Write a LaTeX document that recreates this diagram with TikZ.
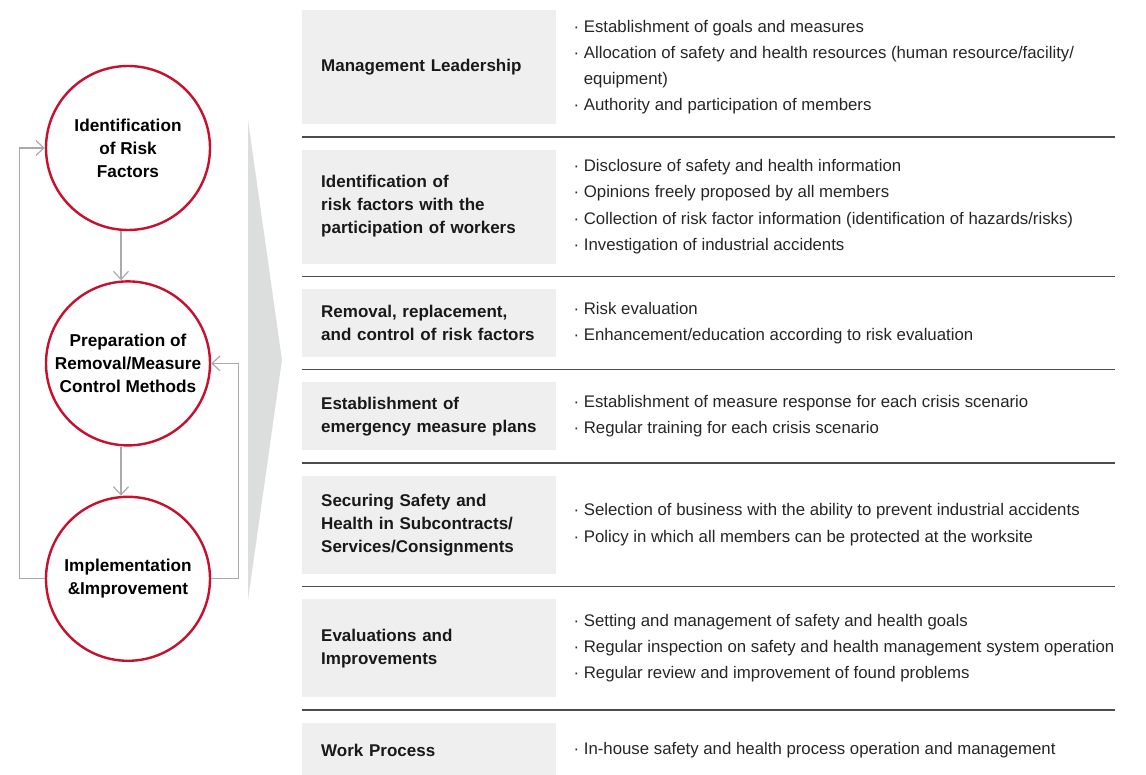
\documentclass[tikz,border=0pt]{standalone}
\usepackage{fontspec}
\setmainfont{Liberation Sans}
\usetikzlibrary{positioning, arrows.meta, calc}
\definecolor{riskred}{RGB}{200,16,46}
\definecolor{headgray}{RGB}{239,239,239}
\definecolor{wedgegray}{RGB}{220,221,221}
\definecolor{loopgray}{RGB}{170,170,170}
\begin{document}
\begin{tikzpicture}[
    x=1pt, y=-1pt, node distance=25pt and 17pt,
    font=\fontsize{16.8}{26.3}\selectfont,
    stage/.style={circle, draw=riskred, fill=white, line width=2.4pt, minimum size=164pt,
                  inner sep=0pt, align=center, font=\bfseries\fontsize{17.2}{23}\selectfont},
    head/.style={fill=headgray, text width=216pt, inner xsep=19pt, inner ysep=0pt,
                 align=left, text=black!90, font=\bfseries\fontsize{17}{23}\selectfont},
    item/.style={inner sep=0pt, align=left, text=black!85},
    flow/.style={-{Straight Barb[length=8pt, width=15pt]}, line width=1.2pt, draw=loopgray},
    sep/.style={line width=1.3pt, draw=black!70}
]
\useasboundingbox (0,0) rectangle (1146,775);
% cycle
\node[stage] (s1) at (128,148) {Identification\\of Risk\\Factors};
\node[stage, below=49pt of s1] (s2) {Preparation of\\Removal/Measure\\Control Methods};
\node[stage, below=49pt of s2] (s3) {Implementation\\\&Improvement};
\draw[flow] ([xshift=-7pt]s1.south) -- ([xshift=-7pt]s2.north);
\draw[flow] ([xshift=-7pt]s2.south) -- ([xshift=-7pt]s3.north);
\draw[flow] (s3.west) -- ++(-25,0) |- (s1.west);
\draw[flow] (s3.east) -- ++(27,0) |- (s2.east);
\fill[wedgegray] (248,120) -- (282,360) -- (248,600) -- cycle;
% table
\node[head, anchor=north west, minimum height=114pt] (r1) at (302,10) {Management Leadership};
\node[head, minimum height=114pt, below=of r1] (r2) {Identification of\\risk factors with the\\participation of workers};
\node[head, minimum height=68pt, below=of r2] (r3) {Removal, replacement,\\and control of risk factors};
\node[head, minimum height=68pt, below=of r3] (r4) {Establishment of\\emergency measure plans};
\node[head, minimum height=98pt, below=of r4] (r5) {Securing Safety and\\Health in Subcontracts/\\Services/Consignments};
\node[head, minimum height=98pt, below=of r5] (r6) {Evaluations and\\Improvements};
\node[head, minimum height=55pt, below=of r6] (r7) {Work Process};
\node[item, right=of r1] (d1) {·\ Establishment of goals and measures\\
  ·\ Allocation of safety and health resources (human resource/facility/\\
  \hphantom{·\ }equipment)\\·\ Authority and participation of members};
\node[item, right=of r2] (d2) {·\ Disclosure of safety and health information\\
  ·\ Opinions freely proposed by all members\\
  ·\ Collection of risk factor information (identification of hazards/risks)\\
  ·\ Investigation of industrial accidents};
\node[item, right=of r3] (d3) {·\ Risk evaluation\\·\ Enhancement/education according to risk evaluation};
\node[item, right=of r4] (d4) {·\ Establishment of measure response for each crisis scenario\\
  ·\ Regular training for each crisis scenario};
\node[item, right=of r5] (d5) {·\ Selection of business with the ability to prevent industrial accidents\\
  ·\ Policy in which all members can be protected at the worksite};
\node[item, right=of r6] (d6) {·\ Setting and management of safety and health goals\\
  ·\ Regular inspection on safety and health management system operation\\
  ·\ Regular review and improvement of found problems};
\node[item, right=of r7] (d7) {·\ In-house safety and health process operation and management};
\coordinate (edge) at (1115,0);
\foreach \a/\b in {r1/r2, r2/r3, r3/r4, r4/r5, r5/r6, r6/r7}{
  \coordinate (m) at ($(\a.south west)!.5!(\b.north west)$);
  \draw[sep] (m) -- (m -| edge);}
\end{tikzpicture}
\end{document}
